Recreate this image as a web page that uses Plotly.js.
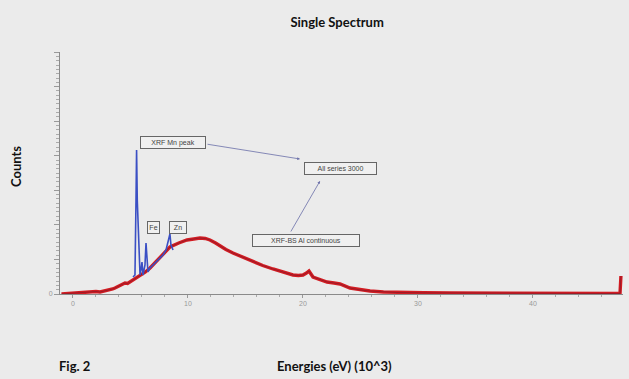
<!DOCTYPE html>
<html>
<head>
<meta charset="utf-8">
<script src="https://cdn.plot.ly/plotly-3.0.1.min.js"></script>
<style>
html,body{margin:0;padding:0;background:#ebebeb;}
#chart{width:629px;height:379px;}
</style>
</head>
<body>
<div id="chart"></div>
<script>
// Energy in keV (x 10^3 eV), counts (arbitrary units)
var contEnergy = [-1.0, 0.17, 0.8, 1.48, 2.0, 2.35, 2.8, 3.22, 3.45, 3.65, 3.9, 4.09, 4.3, 4.52, 4.75, 4.96, 5.2, 5.39, 5.83, 6.3, 6.70, 7.1, 7.57, 8.0, 8.43, 9.2, 9.91, 10.5, 11.04, 11.5, 11.91, 12.4, 12.78, 13.3, 13.91, 14.8, 15.65, 16.5, 17.39, 18.3, 19.13, 19.6, 20.0, 20.3, 20.52, 20.87, 21.5, 22.09, 22.7, 23.22, 24.09, 25.0, 25.83, 27.0, 28.17, 30.5, 32.78, 35.8, 38.87, 42.3, 45.83, 47.57, 47.65];
var contCounts = [0, 100, 150, 200, 250, 200, 300, 400, 500, 600, 750, 800, 1000, 1100, 1050, 1200, 1400, 1500, 1800, 2200, 2600, 3100, 3700, 4200, 4700, 5100, 5400, 5500, 5600, 5550, 5400, 5100, 4800, 4450, 4100, 3650, 3200, 2850, 2500, 2200, 1900, 1850, 1900, 2100, 2300, 1700, 1450, 1200, 1100, 1000, 600, 400, 300, 200, 150, 120, 100, 100, 100, 80, 50, 50, 1800];

var peakEnergy = [5.22, 5.39, 5.48, 5.53, 5.59, 5.65, 5.74, 5.83, 5.91, 6.0, 6.09, 6.26, 6.35, 6.43, 6.52, 6.70, 6.96, 7.22, 7.57, 7.83, 8.09, 8.26, 8.43, 8.52, 8.70];
var peakCounts = [1700, 1900, 9400, 14400, 9400, 6900, 4400, 1900, 2400, 3200, 1900, 2900, 5100, 3200, 2200, 2600, 2900, 3200, 3600, 3900, 4400, 5200, 6000, 4900, 4400];

var xTickVals = [0, 10, 20, 30, 40];
var xTickText = ["0", "10", "20", "30", "40"];

var labelFont = {family: "Lato, sans-serif", size: 13, color: "#111", weight: 700};
var boxFont = {family: "Liberation Sans, Arial, sans-serif", size: 7, color: "#444"};

var traces = [
  {x: contEnergy, y: contCounts, type: "scatter", mode: "lines",
   line: {color: "#d21c22", width: 3.4, shape: "linear"}, hoverinfo: "skip"},
  {x: contEnergy, y: contCounts, type: "scatter", mode: "lines",
   line: {color: "#8e1a2a", width: 0.8}, hoverinfo: "skip"},
  {x: peakEnergy, y: peakCounts, type: "scatter", mode: "lines",
   line: {color: "#3a4fc4", width: 1.6}, hoverinfo: "skip"}
];

function box(text, x, y, w) {
  return {text: text, x: x, y: y, xref: "x", yref: "y", showarrow: false,
    width: w, height: 9, align: "center",
    font: boxFont, bgcolor: "#f0f0f0", bordercolor: "#666", borderwidth: 1, borderpad: 1};
}

var layout = {
  width: 629, height: 379,
  paper_bgcolor: "#ebebeb", plot_bgcolor: "#ebebeb",
  margin: {l: 60, r: 6, t: 52, b: 85},
  showlegend: false,
  title: {text: "Single Spectrum", font: {family: "Lato, sans-serif", size: 13, color: "#111", weight: 700},
          x: 0.536, xref: "container", y: 0.94, yanchor: "middle"},
  xaxis: {range: [-1.13, 47.83], showgrid: false, zeroline: false,
    showline: true, linecolor: "#8a8a8a", linewidth: 1,
    tickmode: "array", tickvals: xTickVals, ticktext: xTickText,
    ticks: "outside", ticklen: 3, tickcolor: "#999",
    tickfont: {family: "Liberation Sans, sans-serif", size: 7, color: "#999"},
    minor: {dtick: 2, tick0: 0, ticks: "outside", ticklen: 2, tickcolor: "#aaa"}},
  yaxis: {range: [0, 24200], showgrid: false, zeroline: false,
    showline: true, linecolor: "#8a8a8a", linewidth: 1,
    tickmode: "array", tickvals: [0, 3457, 6914, 10371, 13828, 17285, 20742, 24199],
    ticktext: ["0", "", "", "", "", "", "", ""],
    ticks: "outside", ticklen: 5, tickcolor: "#999",
    tickfont: {family: "Liberation Sans, sans-serif", size: 7, color: "#999"},
    minor: {dtick: 432, tick0: 0, ticks: "outside", ticklen: 3, tickcolor: "#aaa"}},
  annotations: [
    box("XRF Mn peak", 8.70, 15150, 62),
    box("All series 3000", 23.26, 12550, 69),
    box("XRF-BS Al continuous", 20.26, 5400, 104),
    box("Fe", 6.96, 6700, 9),
    box("Zn", 9.13, 6700, 14),
    {text: "", x: 19.74, y: 13500, xref: "x", yref: "y", showarrow: true,
     ax: -94, ay: -15, arrowhead: 2, arrowsize: 0.7, arrowwidth: 0.8, arrowcolor: "#6a6fa8"},
    {text: "", x: 21.48, y: 11300, xref: "x", yref: "y", showarrow: true,
     ax: -30, ay: 52, arrowhead: 2, arrowsize: 0.7, arrowwidth: 0.8, arrowcolor: "#6a6fa8"},
    {text: "Counts", xref: "paper", yref: "paper", x: -0.078, y: 0.525, textangle: -90,
     showarrow: false, font: labelFont, xanchor: "center", yanchor: "middle"},
    {text: "Fig. 2", xref: "paper", yref: "paper", x: -0.005, y: -0.2975,
     showarrow: false, font: labelFont, xanchor: "left", yanchor: "middle"},
    {text: "Energies (eV) (10^3)", xref: "paper", yref: "paper", x: 0.488, y: -0.2975,
     showarrow: false, font: labelFont, xanchor: "center", yanchor: "middle"}
  ]
};

Plotly.newPlot("chart", traces, layout, {displayModeBar: false, staticPlot: true});
</script>
</body>
</html>
